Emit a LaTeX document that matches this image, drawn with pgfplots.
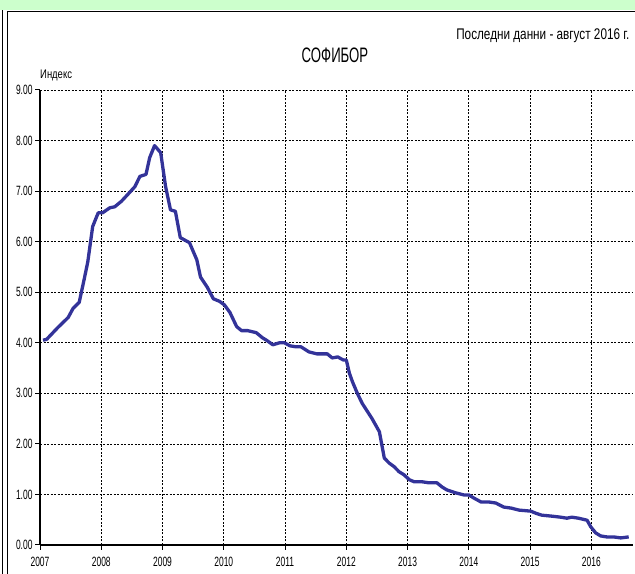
\documentclass[border=0pt]{standalone}
\usepackage{fontspec}
\setmainfont{Liberation Sans}[FakeStretch=0.63]
\newfontfamily\widefont{Liberation Sans}[FakeStretch=0.76]
\usepackage{pgfplots}
\pgfplotsset{compat=1.18}
\definecolor{linec}{RGB}{51,51,153}
\definecolor{bandc}{RGB}{204,255,204}

\begin{document}
\begin{tikzpicture}[x=1bp,y=1bp]
\useasboundingbox (0,0) rectangle (635,574);
% frame and top band
\fill[bandc] (0,564) rectangle (635,574);
\draw[line width=1bp] (2,0) -- (2,564);
\draw[line width=1bp] (7,0) -- (7,562) -- (635,562);

\node[anchor=east, font=\widefont\fontsize{15.5}{17}\selectfont] at (633,538) {Последни данни - август 2016 г.};
\node[font=\fontsize{21}{23}\selectfont] at (335,519) {СОФИБОР};
\node[anchor=west, font=\widefont\fontsize{12.5}{14}\selectfont, inner sep=0pt] at (40,499) {Индекс};

\begin{axis}[
    at={(40bp,29bp)}, anchor=south west,
    scale only axis,
    width=593bp, height=455bp,
    xmin=2007, xmax=2016.68,
    ymin=0, ymax=9,
    xtick={2007,2008,...,2016},
    ytick={0,1,...,9},
    axis x line*=bottom,
    axis y line*=left,
    axis line style={line width=1.2bp},
    tick align=outside,
    major tick length=5bp,
    tick style={black, line width=1bp},
    xmajorgrids, ymajorgrids,
    major grid style={black, line width=0.7bp, dash pattern=on 2bp off 1.5bp},
    ticklabel style={font=\fontsize{13.5}{15}\selectfont},
    xticklabel style={yshift=-4bp, /pgf/number format/1000 sep={}},
    yticklabel style={xshift=1bp, /pgf/number format/.cd, fixed, fixed zerofill, precision=2},
    /pgf/number format/assume math mode=true,
    clip=false,
]
\addplot[color=linec, line width=3.3bp, line join=round] coordinates {
(2007.05,4.05)(2007.11,4.07)(2007.29,4.30)(2007.46,4.50)(2007.54,4.68)
(2007.64,4.80)(2007.72,5.25)(2007.78,5.60)(2007.86,6.30)(2007.95,6.57)
(2008.02,6.57)(2008.14,6.67)(2008.22,6.69)(2008.33,6.80)(2008.43,6.93)
(2008.55,7.09)(2008.63,7.29)(2008.73,7.33)(2008.79,7.66)(2008.87,7.90)
(2008.97,7.76)(2009.05,7.09)(2009.13,6.63)(2009.21,6.60)(2009.29,6.08)
(2009.44,5.98)(2009.56,5.64)(2009.62,5.30)(2009.73,5.10)(2009.83,4.87)
(2009.93,4.82)(2010.01,4.75)(2010.10,4.60)(2010.21,4.32)(2010.29,4.24)
(2010.39,4.24)(2010.53,4.20)(2010.63,4.10)(2010.71,4.04)(2010.80,3.96)
(2010.91,4.00)(2010.99,4.00)(2011.08,3.94)(2011.18,3.92)(2011.26,3.92)
(2011.39,3.82)(2011.52,3.78)(2011.69,3.78)(2011.77,3.70)(2011.86,3.72)
(2011.95,3.66)(2012.00,3.66)(2012.05,3.40)(2012.10,3.23)(2012.18,3.00)
(2012.26,2.80)(2012.42,2.50)(2012.54,2.24)(2012.62,1.72)(2012.70,1.62)
(2012.78,1.55)(2012.86,1.45)(2012.94,1.39)(2013.03,1.29)(2013.11,1.25)
(2013.24,1.25)(2013.35,1.23)(2013.48,1.23)(2013.56,1.15)(2013.64,1.09)
(2013.79,1.03)(2013.92,0.99)(2014.00,0.99)(2014.08,0.93)(2014.20,0.85)
(2014.33,0.85)(2014.44,0.83)(2014.57,0.75)(2014.69,0.73)(2014.82,0.69)
(2015.01,0.67)(2015.09,0.63)(2015.19,0.59)(2015.36,0.57)(2015.50,0.55)
(2015.60,0.53)(2015.68,0.55)(2015.79,0.53)(2015.93,0.49)(2015.99,0.36)
(2016.07,0.24)(2016.15,0.18)(2016.25,0.16)(2016.36,0.16)(2016.48,0.14)
(2016.61,0.16)
};
\end{axis}
\end{tikzpicture}
\end{document}
